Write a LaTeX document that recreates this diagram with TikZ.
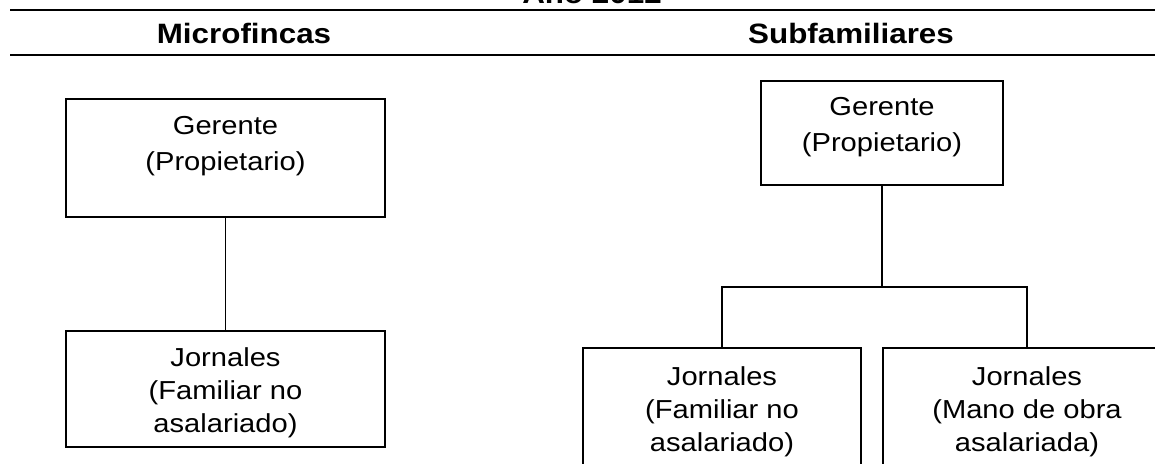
\documentclass[tikz,border=0pt]{standalone}
\usepackage{fontspec}
\setmainfont{Liberation Sans}[FakeStretch=1.12]
\usetikzlibrary{calc}
\begin{document}
\begin{tikzpicture}[x=1pt,y=-1pt,
  box/.style={draw, line width=1.8pt, inner sep=0pt, rectangle},
  link/.style={line width=1.4pt},
  rule/.style={line width=1.9pt},
  head/.style={font=\bfseries\fontsize{28}{30}\selectfont, anchor=base, inner sep=0pt},
  boxtext/.style={font=\fontsize{26}{#1}\selectfont, align=center, anchor=north, inner sep=0pt},
  boxtext/.default=36.5]
\useasboundingbox (0,0) rectangle (1155,463);

% header with column titles
\node[head] (year) at (592,3) {Año 2012};
\draw[rule] (10,10) coordinate (rt1) -- (1160,10) coordinate (rt2);
\node[head] (micro) at (244,43) {Microfincas};
\node[head] (subf) at (851,43) {Subfamiliares};
\draw[rule] (10,55) coordinate (rb1) -- (1160,55) coordinate (rb2);

% left chart: microfincas
\node[box, minimum width=319pt, minimum height=118pt] (gL) at (225.5,158) {};
\node[boxtext] (gLt) at ($(gL.north)+(0,18)$) {Gerente\\(Propietario)};
\node[box, minimum width=319pt, minimum height=116pt] (jL) at (225.5,389) {};
\node[boxtext=33] (jLt) at ($(jL.north)+(0,17)$) {Jornales\\(Familiar no\\asalariado)};
\draw[link] (gL.south) -- (jL.north);

% right chart: subfamiliares
\node[box, minimum width=242pt, minimum height=104pt] (gR) at (882,133) {};
\node[boxtext] (gRt) at ($(gR.north)+(0,17)$) {Gerente\\(Propietario)};
\node[box, minimum width=278pt, minimum height=150pt] (jR1) at (722,423) {};
\node[boxtext=33] (jR1t) at ($(jR1.north)+(0,19)$) {Jornales\\(Familiar no\\asalariado)};
\node[box, minimum width=288pt, minimum height=150pt] (jR2) at (1027,423) {};
\node[boxtext=33] (jR2t) at ($(jR2.north)+(0,19)$) {Jornales\\(Mano de obra\\asalariada)};
\coordinate (br) at (882,287);
\draw[link] (gR.south) -- (br);
\draw[link] (jR1.north) |- (br) -| (jR2.north);
\end{tikzpicture}
\end{document}
